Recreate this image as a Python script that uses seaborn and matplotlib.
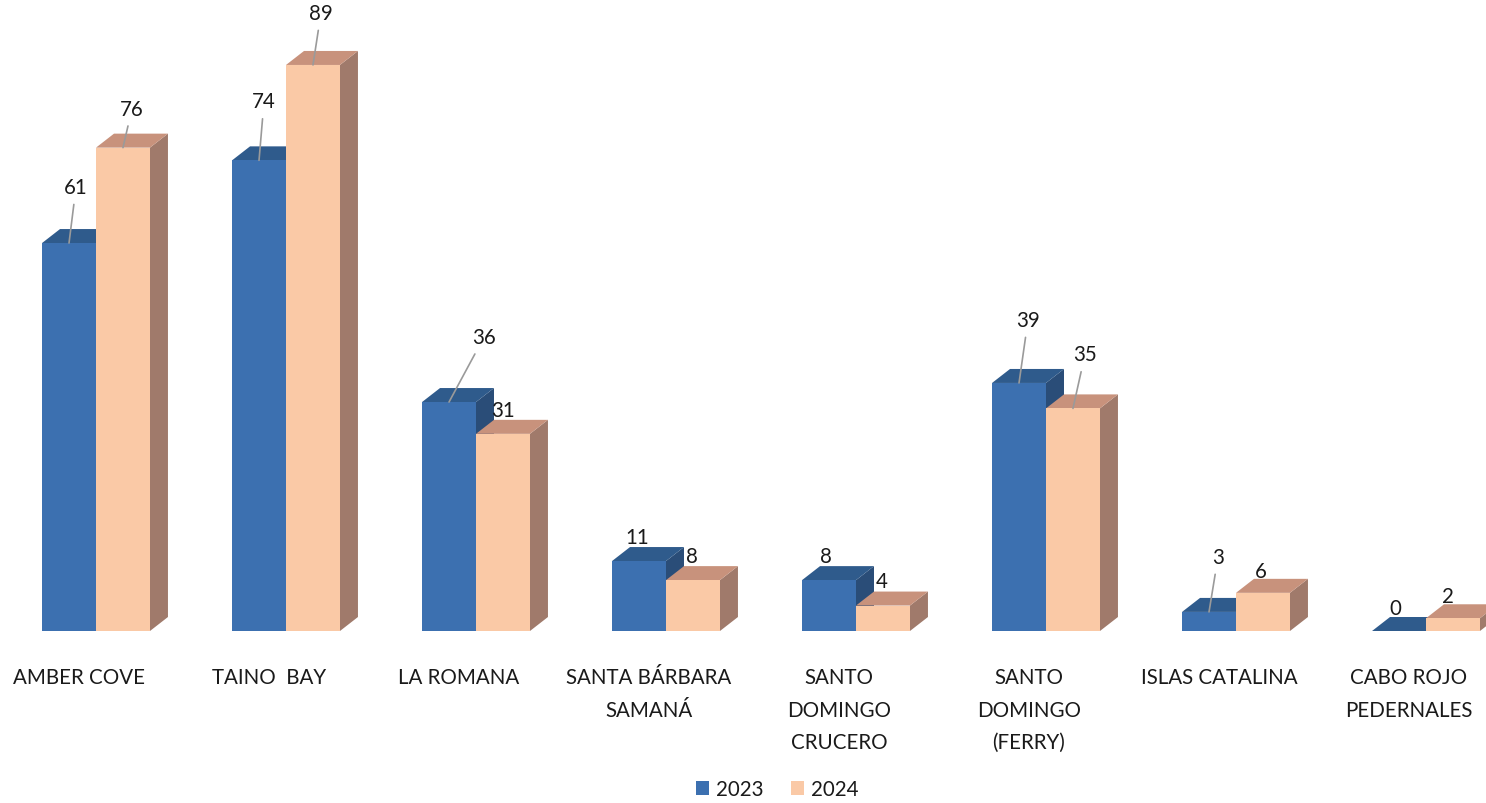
import numpy as np
import pandas as pd
import matplotlib
matplotlib.use("Agg")
import matplotlib.pyplot as plt
from matplotlib.patches import Polygon
import seaborn as sns

ports = ["AMBER COVE", "TAINO  BAY", "LA ROMANA", "SANTA BÁRBARA\nSAMANÁ",
         "SANTO\nDOMINGO\nCRUCERO", "SANTO\nDOMINGO\n(FERRY)",
         "ISLAS CATALINA", "CABO ROJO\nPEDERNALES"]
years = ["2023", "2024"]
v2023 = [61, 74, 36, 11, 8, 39, 3, 0]
v2024 = [76, 89, 31, 8, 4, 35, 6, 2]

df = pd.DataFrame({
    "puerto": ports * 2,
    "anio": [years[0]] * len(ports) + [years[1]] * len(ports),
    "valor": v2023 + v2024,
})

# label offsets (pixels from front-top centre of each bar) and leader flag
lab_off = {
    "2023": [(7, 56), (5, 59), (35, 65), (-2, 24), (-3, 24), (9, 63), (9, 55), (-4, 23)],
    "2024": [(9, 39), (8, 52), (0, 24), (-1, 24), (-1, 25), (12, 54), (-2, 22), (-5, 22)],
}
leader = {
    "2023": [1, 1, 1, 0, 0, 1, 1, 0],
    "2024": [1, 1, 0, 0, 0, 1, 0, 0],
}

front = {"2023": "#3c70b0", "2024": "#fac9a6"}
top = {"2023": "#2f5b8c", "2024": "#c8927c"}
side = {"2023": "#2a4d78", "2024": "#a07a6b"}

sns.set_theme(style="white")
plt.rcParams["font.family"] = ["Lato", "DejaVu Sans"]
FS = 14.8

fig = plt.figure(figsize=(14.86, 8.04), dpi=100)
ax = fig.add_axes([0, 172 / 804, 1, 632 / 804])

sns.barplot(data=df, x="puerto", y="valor", hue="anio", order=ports,
            hue_order=years, palette=front, width=0.568, gap=0,
            saturation=1, edgecolor="none", linewidth=0, legend=False, ax=ax)

ax.set_xlim(-96 / 190, 1390 / 190)
ax.set_ylim(0, 632 / 6.36)

DX = 18 / 190      # depth in category units
DY = 14 / 6.36     # depth in value units

for k, yr in enumerate(years):
    z = 2 + 2 * k
    for j, bar in enumerate(ax.containers[k]):
        bar.set_zorder(z + 1)
        x0, w, h = bar.get_x(), bar.get_width(), bar.get_height()
        x1 = x0 + w
        ax.add_patch(Polygon([(x1, 0), (x1, h), (x1 + DX, h + DY), (x1 + DX, DY)],
                             closed=True, fc=side[yr], ec="none", zorder=z))
        ax.add_patch(Polygon([(x0, h), (x1, h), (x1 + DX, h + DY), (x0 + DX, h + DY)],
                             closed=True, fc=top[yr], ec="none", zorder=z))
        dx, dy = lab_off[yr][j]
        props = None
        if leader[yr][j]:
            props = dict(arrowstyle="-", color="#9a9a9a", lw=1.2, shrinkA=3, shrinkB=0)
        ax.annotate(str(int(h)), xy=(x0 + w / 2, h), xytext=(dx, dy),
                    textcoords="offset pixels", ha="center", va="center",
                    fontsize=FS, color="#1a1a1a", arrowprops=props,
                    annotation_clip=False, zorder=10)

ax.set_xticks(np.arange(len(ports)) - 0.09)
ax.set_xticklabels(ports, fontsize=FS, color="#1a1a1a", linespacing=1.78, va="top")
ax.tick_params(axis="x", length=0, pad=26)
ax.set_yticks([])
ax.set_xlabel("")
ax.set_ylabel("")
for s in ax.spines.values():
    s.set_visible(False)

handles = [plt.Rectangle((0, 0), 1, 1, fc=front[y], ec="none") for y in years]
fig.legend(handles, years, loc="lower center", bbox_to_anchor=(0.523, -0.018), ncol=2,
           frameon=False, fontsize=FS, handlelength=0.65, handleheight=0.65,
           handletextpad=0.35, columnspacing=1.3, labelcolor="#1a1a1a")

fig.savefig("out.png", dpi=100)
